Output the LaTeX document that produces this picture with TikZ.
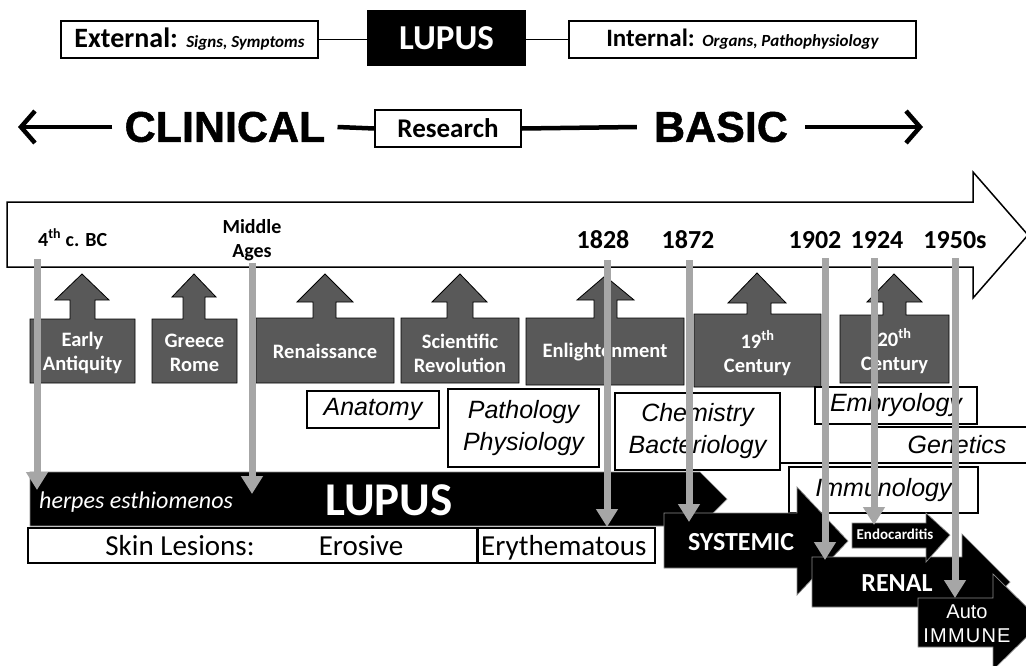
\documentclass[tikz,border=0pt]{standalone}
\usepackage{fontspec}
\setmainfont{Carlito}
\newfontfamily\arialf{Liberation Sans}
\newfontfamily\heavyf[FakeBold=1.2]{Liberation Sans Bold}
\usetikzlibrary{arrows.meta}
\definecolor{upgray}{HTML}{595959}
\definecolor{arrgray}{HTML}{A6A6A6}
\newcommand\fz[2]{\fontsize{#1}{#2}\selectfont}
\begin{document}
\begin{tikzpicture}[x=1pt,y=-1pt,
  box/.style={draw=black,fill=white,line width=1.2pt,inner sep=0pt},
  upa/.style={fill=upgray,draw=black,line width=0.8pt},
  blk/.style={fill=black,draw=black!45,line width=0.7pt},
  garrow/.style={draw=arrgray,line width=7pt,-{Triangle[width=21pt,length=18pt]}},
  thickln/.style={line width=4.5pt},
  wlab/.style={text=white,font=\bfseries\fz{20.5}{24},align=center,inner sep=0pt},
  yr/.style={font=\bfseries\fz{26}{30},anchor=base,inner sep=0pt},
  disc/.style={font=\arialf\itshape\fz{25}{32},align=center,inner sep=0pt},
  big/.style={font=\heavyf\fz{43}{48},inner ysep=0pt},
]
\clip (0,0) rectangle (1026,665);
\fill[white] (0,0) rectangle (1026,665);

% ---- top row
\node[box,minimum width=257pt,minimum height=37pt] (ext) at (189.5,39.5)
  {\bfseries\fz{28}{32}External: {\itshape\fz{17}{20}Signs, Symptoms}};
\node[fill=black,minimum width=159pt,minimum height=56pt,inner sep=0pt,text=white,font=\bfseries\fz{35}{40}] (lup) at (446.5,38) {LUPUS};
\node[box,minimum width=347pt,minimum height=37pt] (int) at (742.5,39.5)
  {\bfseries\fz{25}{30}Internal: {\itshape\fz{17}{20}Organs, Pathophysiology}};
\draw[line width=1.5pt] (ext.east) -- (lup.west |- ext.east);
\draw[line width=1.5pt] (lup.east |- int.west) -- (int.west);

% ---- clinical / basic row
\node[big,inner xsep=12pt] (clin) at (225,127) {CLINICAL};
\node[box,minimum width=146pt,minimum height=37pt,font=\bfseries\fz{27}{30}] (res) at (448,128.5) {Research};
\node[big,inner xsep=17pt] (bas) at (721,127) {BASIC};
\coordinate (cltip) at (18,127);
\coordinate (batip) at (923,127);
\draw[thickln,-{Straight Barb[length=14pt,width=32pt]}] (clin.west) -- (cltip);
\draw[thickln] (clin.east) -- (res.west);
\draw[thickln] (res.east) -- (bas.west);
\draw[thickln,-{Straight Barb[length=14pt,width=32pt]}] (bas.east) -- (batip);

% ---- timeline arrow
\draw[line width=1.5pt,fill=white] (7,202) -- (973,202) -- (973,172) -- (1028,235) -- (973,298) -- (973,267) -- (7,267) -- cycle;
\node[font=\bfseries\fz{20}{24},anchor=base west,inner sep=0pt] (bc) at (38,246) {4\textsuperscript{th} c. BC};
\node[font=\bfseries\fz{20}{24},align=center,inner sep=0pt] (mid) at (252,240) {Middle\\Ages};
\node[yr] (y1828) at (603,248) {1828};
\node[yr] (y1872) at (688,248) {1872};
\node[yr] (y1902) at (815,248) {1902};
\node[yr] (y1924) at (877,248) {1924};
\node[yr] (y1950) at (955,248) {1950s};

% ---- period up-arrows
\foreach \xa/\xb/\ya/\yb/\sa/\sb/\ha/\hb/\hy/\tx/\ty in {
  30/135/319/383/70/95/55/109/300/82/274,
  152/237/319/383/183/205/172/216/297/194/274,
  256/394/318/383/313/336/297/353/302/325/274,
  401/519/318/383/447/473/432/487/302/460/274,
  526/684/318/385/594/617/577/634/300/605/276,
  694/821/314/387/747/771/728/786/303/757/273,
  840/949/315/383/883/906/867/922/302/894/274}
  \draw[upa] (\xa,\yb) -- (\xa,\ya) -- (\sa,\ya) -- (\sa,\hy) -- (\ha,\hy) -- (\tx,\ty)
     -- (\hb,\hy) -- (\sb,\hy) -- (\sb,\ya) -- (\xb,\ya) -- (\xb,\yb) -- cycle;
\node[wlab] (p1) at (82.5,353) {Early\\Antiquity};
\node[wlab] (p2) at (194.5,353) {Greece\\Rome};
\node[wlab] (p3) at (325,351) {Renaissance};
\node[wlab] (p4) at (460,353) {Scientific\\Revolution};
\node[wlab] (p5) at (605,352) {Enlightenment};
\node[wlab] (p6) at (757.5,353) {19\textsuperscript{th}\\Century};
\node[wlab] (p7) at (894.5,351) {20\textsuperscript{th}\\Century};

% ---- discipline boxes
\node[box,disc,minimum width=132pt,minimum height=37pt] (anat) at (373,409.5) {Anatomy};
\node[box,disc,minimum width=151pt,minimum height=78pt] (path) at (523.5,428) {Pathology\\Physiology};
\node[box,disc,minimum width=165pt,minimum height=77pt] (chem) at (697.5,431.5) {Chemistry\\Bacteriology};
\draw[line width=1.2pt] (874,427) -- (1030,427);
\draw[line width=1.2pt] (780,463) -- (1030,463);
\node[disc] (gen) at (957,445) {Genetics};
\node[box,disc,minimum width=162pt,minimum height=37pt] (emb) at (896,405.5) {Embryology};
\node[box,disc,minimum width=189pt,minimum height=46pt] (imm) at (883.5,490) {Immunology};

% ---- lupus band and skin lesions
\draw[blk] (30,472) -- (700,472) -- (727,499) -- (700,526) -- (30,526) -- cycle;
\node[text=white,font=\itshape\fz{24}{28},anchor=base west,inner sep=0pt] (herp) at (39,508) {herpes esthiomenos};
\node[text=white,font=\bfseries\fz{47}{52},anchor=base,inner sep=0pt] (lup2) at (389,515) {LUPUS};
\draw[line width=1.2pt] (28,528) rectangle (477,563);
\node[font=\fz{29}{34},anchor=base,inner sep=0pt] (skin) at (180,555) {Skin Lesions:};
\node[font=\fz{29}{34},anchor=base,inner sep=0pt] (eros) at (361,555) {Erosive};
\draw[line width=1.2pt] (478,528) rectangle (655,563);
\node[font=\fz{29}{34},anchor=base west,inner sep=0pt] (ery) at (481,555) {Erythematous};

% ---- organ arrows
\draw[blk] (664,513) -- (797,513) -- (797,487) -- (848,541) -- (797,595) -- (797,568) -- (664,568) -- cycle;
\node[text=white,font=\bfseries\fz{26}{30},anchor=base,inner sep=0pt] (sys) at (741,550) {SYSTEMIC};
\draw[blk] (812,557) -- (962,557) -- (962,534) -- (1010,582) -- (962,630) -- (962,607) -- (812,607) -- cycle;
\node[text=white,font=\bfseries\fz{26}{30},anchor=base,inner sep=0pt] (ren) at (897,591) {RENAL};
\draw[blk] (852,523) -- (926,523) -- (926,513) -- (950,535) -- (926,562) -- (926,548) -- (852,548) -- cycle;
\node[text=white,font=\bfseries\fz{15}{18},anchor=base,inner sep=0pt] (endo) at (895,539) {Endocarditis};
\draw[blk] (918,598) -- (993,598) -- (993,574) -- (1042,622) -- (993,670) -- (993,647) -- (918,647) -- cycle;
\node[text=white,font=\arialf\fz{20}{24},anchor=base,inner sep=0pt] (auto) at (967,618) {Auto};
\node[text=white,font=\arialf\fz{20}{24}\addfontfeature{LetterSpace=6},anchor=base,inner sep=0pt] (immune) at (967,642) {IMMUNE};

% ---- grey date arrows
\coordinate (g1s) at (37,259);  \coordinate (g1e) at (37,490);
\coordinate (g2s) at (252,263); \coordinate (g2e) at (252,494);
\coordinate (g3s) at (607,260); \coordinate (g3e) at (607,527);
\coordinate (g4s) at (689,260); \coordinate (g4e) at (689,522);
\coordinate (g5s) at (825,258); \coordinate (g5e) at (825,560);
\coordinate (g6s) at (874,258); \coordinate (g6e) at (874,525);
\coordinate (g7s) at (955,258); \coordinate (g7e) at (955,598);
\foreach \i in {1,...,7} \draw[garrow] (g\i s) -- (g\i e);
\end{tikzpicture}
\end{document}
